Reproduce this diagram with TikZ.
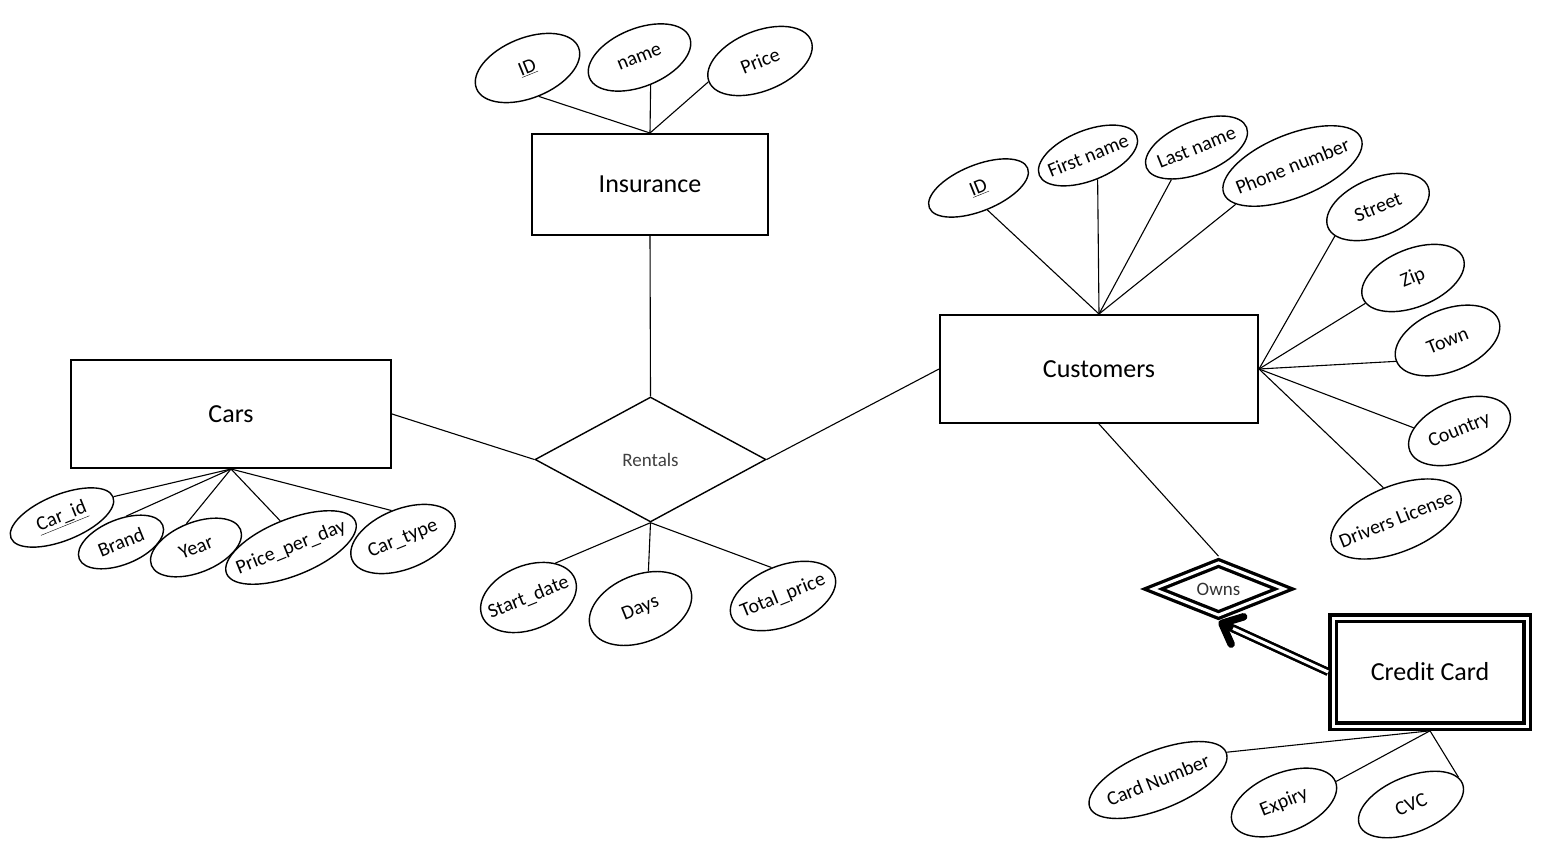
\documentclass[tikz,border=0pt]{standalone}
\usepackage{fontspec}
\setmainfont{Carlito}
\usetikzlibrary{arrows.meta,shapes.geometric}
\newcommand{\attrtext}[1]{\makebox[0pt]{#1}}

\begin{document}
\begin{tikzpicture}[
    x=1pt, y=1pt,
    entity/.style={draw, rectangle, line width=2pt, font=\fontsize{26}{30}\selectfont},
    weak/.style={entity, double, double distance=3pt, line width=3.3pt, outer sep=4.8pt},
    attr/.style={draw, ellipse, rotate=22, line width=1.4pt, inner sep=0pt, minimum width=108pt, minimum height=58pt, font=\fontsize{20}{24}\selectfont},
    relation/.style={draw, diamond, line width=1.4pt, inner sep=0pt, font=\fontsize{19}{22}\selectfont, text=black!75},
    weakrel/.style={relation, double, double distance=3pt, line width=3.3pt, outer sep=4.8pt, text=black!80},
    link/.style={line width=1.1pt}
  ]
    \useasboundingbox (0,0) rectangle (1549,860);

    % entities and relationships
    \node (ins) [entity, minimum width=236pt, minimum height=101pt] at (650,675.5) {Insurance};
    \node (cars) [entity, minimum width=320pt, minimum height=108pt] at (231,446) {Cars};
    \node (cus) [entity, minimum width=318pt, minimum height=108pt] at (1099,491) {Customers};
    \node (cc) [weak, minimum width=194pt, minimum height=108pt] at (1430,188) {Credit Card};
    \node (rent) [relation, minimum width=231pt, minimum height=125pt] at (650.5,400.5) {Rentals};
    \node (owns) [weakrel, minimum width=135pt, minimum height=51pt] at (1218.5,271) {Owns};

    % insurance attributes
    \node (iid) [attr, minimum width=110pt, minimum height=60pt] at (527.5,792) {\attrtext{\underline{ID}}};
    \node (iname) [attr] at (639.5,802.5) {\attrtext{name}};
    \node (iprice) [attr, minimum width=110pt, minimum height=60pt] at (760,799) {\attrtext{Price}};

    % customer attributes
    \node (cid) [attr, minimum width=106pt, minimum height=46pt] at (978.5,672) {\attrtext{\underline{ID}}};
    \node (fname) [attr, minimum width=105pt, minimum height=50pt] at (1088,704.5) {\attrtext{First name}};
    \node (lname) [attr, minimum width=108pt, minimum height=52pt] at (1196.5,712.5) {\attrtext{Last name}};
    \node (phone) [attr, minimum width=148pt, minimum height=63pt] at (1292.5,694) {\attrtext{Phone number}};
    \node (street) [attr] at (1378,653) {\attrtext{Street}};
    \node (zip) [attr] at (1413,582) {\attrtext{Zip}};
    \node (town) [attr, minimum width=110pt, minimum height=62pt] at (1447.5,519.5) {\attrtext{Town}};
    \node (country) [attr, minimum width=107pt, minimum height=61pt] at (1459.5,429) {\attrtext{Country}};
    \node (drivers) [attr, minimum width=138pt, minimum height=66pt] at (1396,341) {\attrtext{Drivers License}};

    % car attributes
    \node (carid) [attr, minimum width=110pt, minimum height=46pt] at (62,342.5) {\attrtext{\underline{Car\_id}}};
    \node (brand) [attr, minimum width=90pt, minimum height=45pt] at (121,318) {\attrtext{Brand}};
    \node (year) [attr, minimum width=96pt, minimum height=50pt] at (196,312.5) {\attrtext{Year}};
    \node (ppd) [attr, minimum width=139pt, minimum height=56pt] at (291,312.5) {\attrtext{Price\_per\_day}};
    \node (cartype) [attr, minimum width=110pt, minimum height=60pt] at (403,321) {\attrtext{Car\_type}};

    % rental attributes
    \node (start) [attr, minimum width=100pt, minimum height=64pt] at (528.5,262.5) {\attrtext{Start\_date}};
    \node (days) [attr, minimum width=107pt, minimum height=67pt] at (640.5,251.5) {\attrtext{Days}};
    \node (total) [attr, minimum width=111pt, minimum height=60pt] at (783,264) {\attrtext{Total\_price}};

    % credit card attributes
    \node (cardnum) [attr, minimum width=147pt, minimum height=58pt] at (1158,80) {\attrtext{Card Number}};
    \node (expiry) [attr, minimum width=111pt, minimum height=59pt] at (1284,57.5) {\attrtext{Expiry}};
    \node (cvc) [attr, minimum width=111pt, minimum height=56pt] at (1411,55.5) {\attrtext{CVC}};

    \draw [link] (iid.south) -- (ins.north);
    \draw [link] (iname.south) -- (ins.north);
    \draw [link] (iprice.west) -- (ins.north);
    \draw [link] (ins.south) -- (rent.north);
    \draw [link] (cars.east) -- (rent.west);
    \draw [link] (cus.west) -- (rent.east);

    \draw [link] (cid.south) -- (cus.north);
    \draw [link] (fname.south) -- (cus.north);
    \draw [link] (lname.-150) -- (cus.north);
    \draw [link] (phone.192) -- (cus.north);
    \draw [link] (street.192) -- (cus.east);
    \draw [link] (zip.186) -- (cus.east);
    \draw [link] (town.west) -- (cus.east);
    \draw [link] (country.154) -- (cus.east);
    \draw [link] (drivers.north) -- (cus.east);

    \draw [link] (carid.east) -- (cars.south);
    \draw [link] (brand.57) -- (cars.south);
    \draw [link] (year.north) -- (cars.south);
    \draw [link] (ppd.north) -- (cars.south);
    \draw [link] (cartype.north) -- (cars.south);

    \draw [link] (start.30) -- (rent.south);
    \draw [link] (days.56) -- (rent.south);
    \draw [link] (total.north) -- (rent.south);

    \draw [link] (cus.south) -- (owns.north);
    \draw [link] (cardnum.east) -- (cc.south);
    \draw [link] (expiry.east) -- (cc.south);
    \draw [link] (cvc.8) -- (cc.south);

    % total participation of the weak entity
    \draw [line width=8pt, -{Straight Barb[round, length=17pt, width=30pt, line width=7.5pt]}] (cc.west) -- (owns.south);
    \draw [double, double distance=3pt, line width=2.5pt, shorten >=16pt] (cc.west) -- (owns.south);
  \end{tikzpicture}
\end{document}
